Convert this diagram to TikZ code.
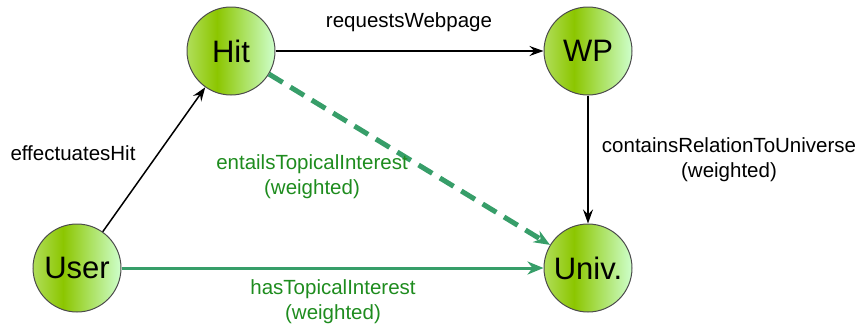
\documentclass[tikz,border=0pt]{standalone}
\usepackage{fontspec}
\setmainfont{Liberation Sans}
\usetikzlibrary{arrows.meta}
\definecolor{ballL}{RGB}{176,222,90}
\definecolor{ballM}{RGB}{140,198,0}
\definecolor{ballR}{RGB}{206,255,204}
\definecolor{edgegreen}{RGB}{55,158,105}
\definecolor{textgreen}{RGB}{30,140,30}
\pgfdeclarehorizontalshading{ballshade}{100bp}{color(0bp)=(ballL); color(25bp)=(ballL); color(42bp)=(ballM); color(75bp)=(ballR); color(100bp)=(ballR)}
\begin{document}
\begin{tikzpicture}[x=1pt,y=-1pt,
  ball/.style={circle, draw=black!70, line width=1pt, shade, shading=ballshade, minimum size=88pt, inner sep=0pt, font=\fontsize{31}{31}\selectfont},
  lbl/.style={font=\fontsize{20.5}{25}\selectfont, align=center, inner sep=0pt},
  blk/.style={line width=1.5pt, -{Stealth[length=14pt,width=10pt,inset=5pt]}},
  grn/.style={line width=3pt, draw=edgegreen, -{Stealth[length=16pt,width=13pt,inset=5pt]}},
  grndash/.style={grn, line width=5pt, dash pattern=on 16pt off 9pt}]
\useasboundingbox (0,0) rectangle (861,325);
\node[ball] (hit) at (231,51) {Hit};
\node[ball] (wp) at (588,51) {WP};
\node[ball] (user) at (77,268) {User};
\node[ball] (univ) at (588,268) {Univ.};
\draw[blk] (user) -- (hit);
\draw[blk] (hit) -- (wp);
\draw[blk] (wp) -- (univ);
\draw[grndash] (hit) -- (univ);
\draw[grn] (user) -- (univ);
\node[lbl] (l1) at (73,153) {effectuatesHit};
\node[lbl] (l2) at (409,22) {requestsWebpage};
\node[lbl] (l3) at (729,160) {containsRelationToUniverse\\(weighted)};
\node[lbl, text=textgreen] (l4) at (312,177) {entailsTopicalInterest\\(weighted)};
\node[lbl, text=textgreen] (l5) at (333,302) {hasTopicalInterest\\(weighted)};
\end{tikzpicture}
\end{document}
